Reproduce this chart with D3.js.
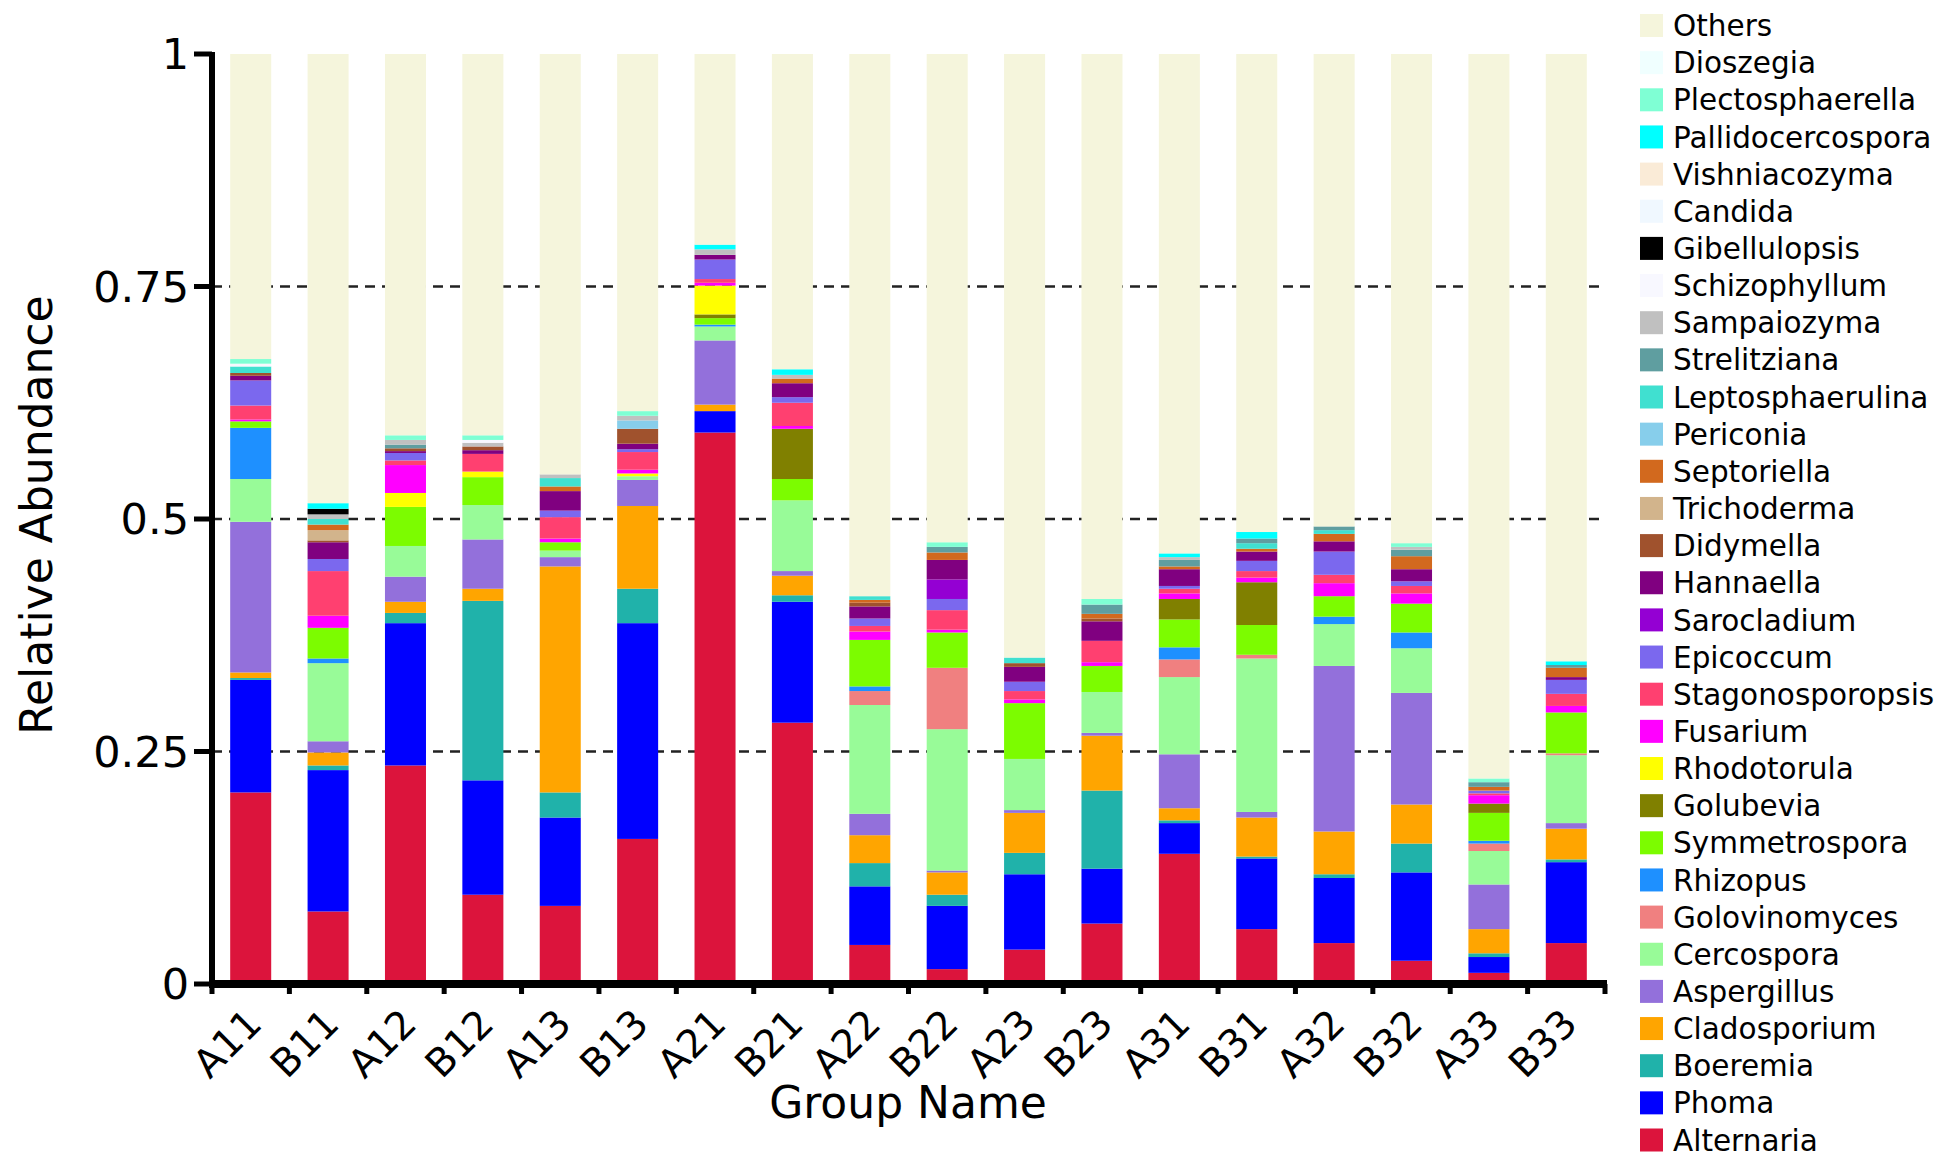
<!DOCTYPE html>
<html>
<head>
<meta charset="utf-8">
<script src="https://cdn.jsdelivr.net/npm/d3@7"></script>
<style>
  html, body { margin: 0; padding: 0; background: #ffffff; }
  svg { display: block; }
  text { font-family: "DejaVu Sans", Verdana, sans-serif; fill: #000; }
</style>
</head>
<body>
<svg id="chart" width="1950" height="1166"></svg>
<script>
// ---------- DATA ----------
const samples = ["A11","B11","A12","B12","A13","B13","A21","B21","A22","B22","A23","B23","A31","B31","A32","B32","A33","B33"];

// stacking order: bottom -> top
const genera = ["Alternaria","Phoma","Boeremia","Cladosporium","Aspergillus","Cercospora","Golovinomyces","Rhizopus",
  "Symmetrospora","Golubevia","Rhodotorula","Fusarium","Stagonosporopsis","Epicoccum","Sarocladium","Hannaella",
  "Didymella","Trichoderma","Septoriella","Periconia","Leptosphaerulina","Strelitziana","Sampaiozyma","Schizophyllum",
  "Gibellulopsis","Candida","Vishniacozyma","Pallidocercospora","Plectosphaerella","Dioszegia","Others"];

const genusColors = ["#DC143C","#0000FF","#20B2AA","#FFA500","#9370DB","#98FB98","#F08080","#1E90FF",
  "#7CFC00","#808000","#FFFF00","#FF00FF","#FF4070","#7B68EE","#9400D3","#800080",
  "#A0522D","#D2B48C","#D2691E","#87CEEB","#40E0D0","#5F9EA0","#C0C0C0","#F8F8FF",
  "#000000","#F0F8FF","#FAEBD7","#00FFFF","#7FFFD4","#F0FFFF","#F5F5DC"];

const Alternaria       = [.206,.078,.235,.096,.084,.156,.593,.281,.042,.016,.037,.065,.140,.059,.044,.025,.012,.044];
const Phoma            = [.121,.152,.153,.123,.095,.232,.023,.130,.063,.068,.081,.059,.033,.076,.070,.095,.017,.087];
const Boeremia         = [.002,.005,.011,.193,.027,.037,0,.007,.025,.012,.023,.084,.003,.002,.004,.031,.004,.003];
const Cladosporium     = [.006,.014,.012,.013,.243,.089,.007,.021,.030,.024,.043,.059,.013,.042,.046,.042,.026,.033];
const Aspergillus      = [.162,.012,.027,.053,.010,.028,.069,.005,.023,.002,.003,.003,.058,.006,.178,.120,.048,.006];
const Cercospora       = [.046,.084,.033,.037,.007,.004,.015,.076,.117,.152,.055,.044,.083,.165,.045,.048,.036,.073];
const Golovinomyces    = [0,0,0,0,0,0,0,0,.015,.066,0,0,.019,.004,0,0,.008,.002];
const Rhizopus         = [.055,.005,0,0,0,0,.002,0,.005,0,0,0,.013,0,.008,.017,.003,0];
const Symmetrospora    = [.007,.033,.042,.030,.009,0,.007,.023,.050,.038,.060,.028,.030,.032,.022,.031,.030,.044];
const Golubevia        = [0,0,0,0,0,0,.004,.054,0,0,0,0,.022,.046,0,0,.010,0];
const Rhodotorula      = [0,0,.015,.006,0,.003,.031,0,0,0,0,0,0,0,0,0,0,0];
const Fusarium         = [.002,.013,.030,0,.004,.004,.003,.003,.009,.003,.004,.004,.006,.005,.014,.011,.009,.007];
const Stagonosporopsis = [.015,.048,.005,.019,.023,.019,.004,.025,.006,.021,.009,.023,.005,.007,.009,.008,.002,.013];
const Epicoccum        = [.027,.013,.008,0,.007,.003,.021,.006,.008,.012,.010,0,.003,.011,.025,.005,.003,.015];
const Sarocladium      = [0,0,0,0,0,0,0,0,0,.021,0,0,0,0,0,0,0,0];
const Hannaella        = [.005,.018,.002,.004,.021,.006,.005,.015,.013,.021,.016,.021,.018,.010,.011,.013,0,.003];
const Didymella        = [.003,.002,.003,.004,0,.016,0,0,.004,0,.004,.003,0,0,0,0,0,0];
const Trichoderma      = [0,.011,0,0,0,0,0,0,0,0,0,0,0,0,0,0,0,0];
const Septoriella      = [0,.006,0,0,.005,0,0,.005,.003,.008,0,.005,.003,.003,.008,.014,.004,.010];
const Periconia        = [0,0,0,0,0,.009,0,0,0,0,0,0,0,0,0,0,0,0];
const Leptosphaerulina = [.007,.006,0,0,.009,0,0,0,.004,0,.006,0,0,.006,.004,0,0,0];
const Strelitziana     = [0,0,.004,0,0,0,0,0,0,.006,0,.010,.007,.005,.004,.007,.005,.003];
const Sampaiozyma      = [0,.005,.005,.004,.004,.005,.006,.004,0,0,0,0,.003,0,0,.003,0,0];
const Schizophyllum    = [.003,0,0,.003,0,0,0,0,0,0,0,0,0,0,0,0,0,0];
const Gibellulopsis    = [0,.006,0,0,0,0,0,0,0,0,0,0,0,0,0,0,0,0];
const Candida          = [0,0,0,0,0,0,0,0,0,0,0,0,0,0,0,0,0,0];
const Vishniacozyma    = [0,0,0,0,0,0,0,0,0,0,0,0,0,0,0,0,0,0];
const Pallidocercospora= [0,.006,0,0,0,0,.005,.006,0,0,0,0,.004,.007,0,0,0,.004];
const Plectosphaerella = [.005,0,.005,.005,0,.005,0,0,0,.005,0,.006,0,0,0,.004,.004,0];
const Dioszegia        = [0,0,0,0,0,0,0,0,0,0,0,0,0,0,0,0,0,0];
const Others           = [.328,.483,.410,.410,.452,.384,.205,.339,.583,.525,.649,.586,.537,.514,.508,.526,.779,.653];

const yTickValues = [0, 0.25, 0.5, 0.75, 1];
const yTickLabels = ["0", "0.25", "0.5", "0.75", "1"];
const gridValues = [0.25, 0.5, 0.75];
const yTitle = "Relative Abundance";
const xTitle = "Group Name";

// ---------- BUILD TABLE ----------
const seriesByGenus = {Alternaria, Phoma, Boeremia, Cladosporium, Aspergillus, Cercospora, Golovinomyces, Rhizopus,
  Symmetrospora, Golubevia, Rhodotorula, Fusarium, Stagonosporopsis, Epicoccum, Sarocladium, Hannaella,
  Didymella, Trichoderma, Septoriella, Periconia, Leptosphaerulina, Strelitziana, Sampaiozyma, Schizophyllum,
  Gibellulopsis, Candida, Vishniacozyma, Pallidocercospora, Plectosphaerella, Dioszegia, Others};

const rows = samples.map((s, i) => {
  const r = {sample: s};
  genera.forEach(g => { r[g] = seriesByGenus[g][i]; });
  return r;
});

const stacked = d3.stack().keys(genera)(rows);
const color = d3.scaleOrdinal().domain(genera).range(genusColors);

// ---------- SCALES ----------
const svg = d3.select("#chart");
const x0 = 212, x1 = 1605, yTop = 54, yBot = 984;
const x = d3.scaleBand().domain(samples).range([x0, x1]).paddingInner(0.47).paddingOuter(0.235);
const y = d3.scaleLinear().domain([0, 1]).range([yBot, yTop]);

// ---------- GRID ----------
svg.append("g").selectAll("line").data(gridValues).join("line")
  .attr("x1", x0).attr("x2", x1)
  .attr("y1", d => y(d)).attr("y2", d => y(d))
  .attr("stroke", "#222").attr("stroke-width", 2.5).attr("stroke-dasharray", "10,7");

// ---------- BARS ----------
svg.append("g").selectAll("g").data(stacked).join("g")
  .attr("fill", d => color(d.key))
  .selectAll("rect").data(d => d).join("rect")
  .attr("x", d => x(d.data.sample))
  .attr("width", x.bandwidth())
  .attr("y", d => y(Math.min(1, d[1])))
  .attr("height", d => Math.max(0, y(d[0]) - y(Math.min(1, d[1]))));

// ---------- AXES ----------
// Y axis
const yAxis = svg.append("g");
yAxis.append("line").attr("x1", x0).attr("x2", x0).attr("y1", y(1) - 2).attr("y2", y(0) + 2)
  .attr("stroke", "#000").attr("stroke-width", 6);
yAxis.selectAll("line.tick").data(yTickValues).join("line").attr("class", "tick")
  .attr("x1", x0 - 18).attr("x2", x0).attr("y1", d => y(d)).attr("y2", d => y(d))
  .attr("stroke", "#000").attr("stroke-width", 5);
yAxis.selectAll("text").data(yTickValues).join("text")
  .attr("x", x0 - 23).attr("y", d => y(d)).attr("dy", "0.36em")
  .attr("text-anchor", "end").attr("font-size", 43)
  .text((d, i) => yTickLabels[i]);

// X axis
const step = x.step();
const boundaries = d3.range(samples.length + 1).map(i => x0 + i * step);
const xAxis = svg.append("g");
xAxis.append("line").attr("x1", x0 - 3).attr("x2", x1 + 2).attr("y1", yBot).attr("y2", yBot)
  .attr("stroke", "#000").attr("stroke-width", 8);
xAxis.selectAll("line.tick").data(boundaries).join("line").attr("class", "tick")
  .attr("x1", d => d).attr("x2", d => d).attr("y1", yBot).attr("y2", yBot + 10)
  .attr("stroke", "#000").attr("stroke-width", 5);
xAxis.selectAll("text").data(samples).join("text")
  .attr("transform", d => `translate(${x(d) + x.bandwidth() / 2 + 13},${yBot + 42}) rotate(-45)`)
  .attr("text-anchor", "end").attr("font-size", 39)
  .text(d => d);

// Titles
svg.append("text").attr("transform", `translate(52,515) rotate(-90)`)
  .attr("text-anchor", "middle").attr("font-size", 44).text(yTitle);
svg.append("text").attr("x", 908).attr("y", 1118)
  .attr("text-anchor", "middle").attr("font-size", 44).text(xTitle);

// ---------- LEGEND ----------
const legendItems = genera.slice().reverse();
const legend = svg.append("g");
const lg = legend.selectAll("g").data(legendItems).join("g")
  .attr("transform", (d, i) => `translate(1640,${25.5 + i * 37.15})`);
lg.append("rect").attr("x", 0).attr("y", -11.5).attr("width", 23).attr("height", 23)
  .attr("fill", d => color(d));
lg.append("text").attr("x", 33).attr("y", 0).attr("dy", "0.36em")
  .attr("font-size", 29.5).text(d => d);
</script>
</body>
</html>
